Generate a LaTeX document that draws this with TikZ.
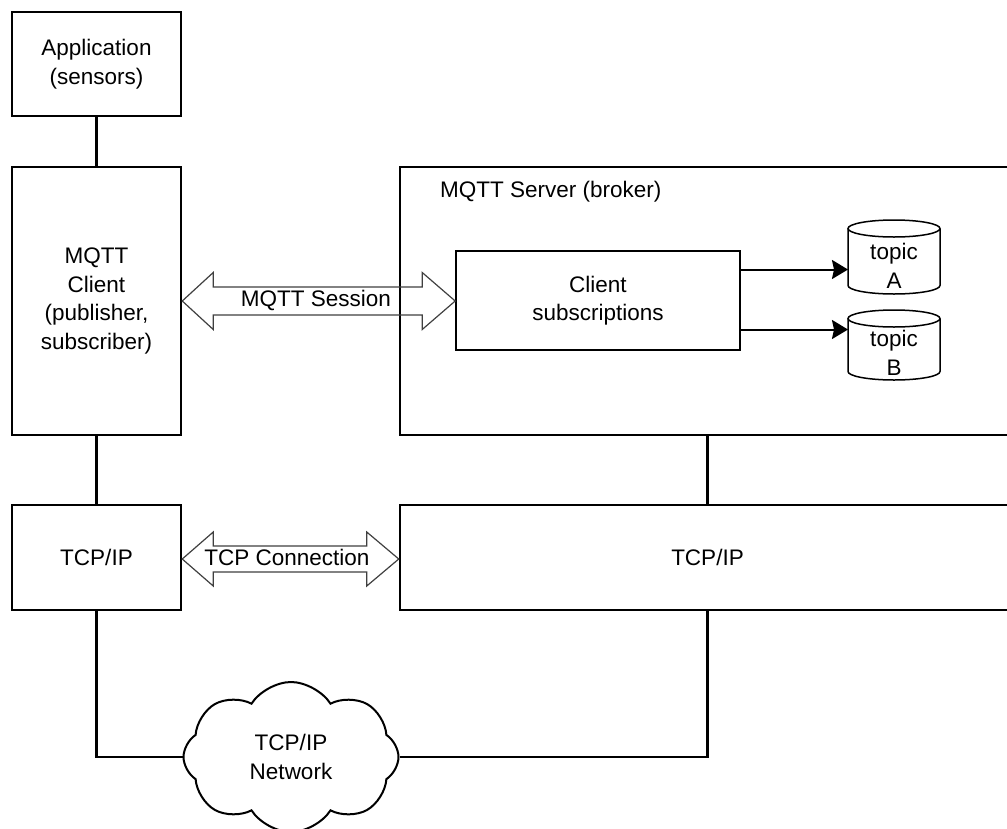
\documentclass[tikz,border=0pt]{standalone}
\usepackage{fontspec}
\setmainfont{Liberation Sans}
\usetikzlibrary{shapes.symbols,arrows.meta,calc}
\begin{document}
\begin{tikzpicture}[x=1pt,y=-1pt,
  lbl/.style={font=\fontsize{22.5}{28.5}\selectfont, align=center, inner sep=0pt},
  box/.style={lbl, draw=black, line width=2.5pt, fill=white},
  thinbox/.style={lbl, draw=black, line width=1.6pt},
  cyl/.style={inner sep=0pt, outer sep=0pt},
  cylline/.style={draw=black, line width=1.5pt},
  wire/.style={draw=black, line width=2.5pt},
  dbl/.style={draw=black!75, line width=1.2pt, line join=miter},
  tip/.style={draw=black, line width=2pt, -{Stealth[length=16pt,width=19pt,inset=2pt]}}]
\useasboundingbox (0,0) rectangle (1007,828);
\clip (0,0) rectangle (1007,828);
\fill[white] (0,0) rectangle (1007,828);

% left column
\node[box, minimum width=169pt, minimum height=104pt] (app) at (96.5,64) {Application\\(sensors)};
\node[box, minimum width=169pt, minimum height=268pt] (client) at (96.5,301) {MQTT\\Client\\(publisher,\\subscriber)};
\node[box, minimum width=169pt, minimum height=105pt] (tcpL) at (96.5,557.5) {TCP/IP};

% right column (runs past the right edge)
\node[box, minimum width=615pt, minimum height=268pt] (server) at (707.5,301) {};
\node[lbl, anchor=base west] (srvlabel) at (440,197) {MQTT Server (broker)};
\node[box, minimum width=615pt, minimum height=105pt] (tcpR) at (707.5,557.5) {TCP/IP};

\node[thinbox, minimum width=284pt, minimum height=99pt] (subs) at (598,300.5) {Client\\subscriptions};

% topics
\node[cyl, minimum width=92pt, minimum height=74pt] (topA) at (894,257) {};
\node[cyl, minimum width=92pt, minimum height=70pt] (topB) at (894,345) {};
\foreach \t in {topA,topB}{
  \draw[cylline] ($(\t.north)+(0,8.5)$) ellipse [x radius=46, y radius=8.5];
  \draw[cylline] ($(\t.north west)+(0,8.5)$) -- ($(\t.south west)+(0,-8.5)$)
     arc[start angle=180, end angle=0, x radius=46, y radius=8.5]
     -- ($(\t.north east)+(0,8.5)$);
}
\node[lbl] (topAtxt) at ([yshift=-9pt]topA.center) {topic\\A};
\node[lbl] (topBtxt) at ([yshift=-8pt]topB.center) {topic\\B};

% cloud
\node[cloud, draw=black, line width=2pt, cloud puffs=8, cloud puff arc=115, aspect=1.45,
      minimum width=215pt, minimum height=150pt, inner sep=0pt, fill=white] (cloud) at (291,757) {};
\node[lbl] (cloudtxt) at (291,757) {TCP/IP\\Network};

% wires
\draw[wire] (app.south) -- (client.north);
\draw[wire] (client.south) -- (tcpL.north);
\draw[wire] (server.south) -- (tcpR.north);
\draw[wire] (tcpL.south) |- (cloud.west);
\draw[wire] (cloud.east) -| (tcpR.south);

% arrows to topics
\coordinate (aA) at ($(subs.east)+(0,-31)$);
\coordinate (aB) at ($(subs.east)+(0,29)$);
\draw[tip] (aA) -- (aA -| topA.west);
\draw[tip] (aB) -- (aB -| topB.west);

% MQTT session double arrow
\coordinate (s1) at (client.east |- 0,301);
\coordinate (s2) at (subs.west |- 0,301);
\draw[dbl] (s1) -- ++(31,-28.5) -- ++(0,14.5) -- ($(s2)+(-33,-14)$) -- ++(0,-14.5)
  -- (s2) -- ++(-33,28.5) -- ++(0,-14.5) -- ($(s1)+(31,14)$) -- ++(0,14.5) -- cycle;
\node[lbl] (mqs) at (316,300) {MQTT Session};

% TCP connection double arrow
\coordinate (t1) at (tcpL.east |- 0,559);
\coordinate (t2) at (tcpR.west |- 0,559);
\draw[dbl] (t1) -- ++(31,-27) -- ++(0,14) -- ($(t2)+(-32,-13)$) -- ++(0,-14)
  -- (t2) -- ++(-32,27) -- ++(0,-14) -- ($(t1)+(31,13)$) -- ++(0,14) -- cycle;
\node[lbl] (tcpc) at (287,557) {TCP Connection};
\end{tikzpicture}
\end{document}
